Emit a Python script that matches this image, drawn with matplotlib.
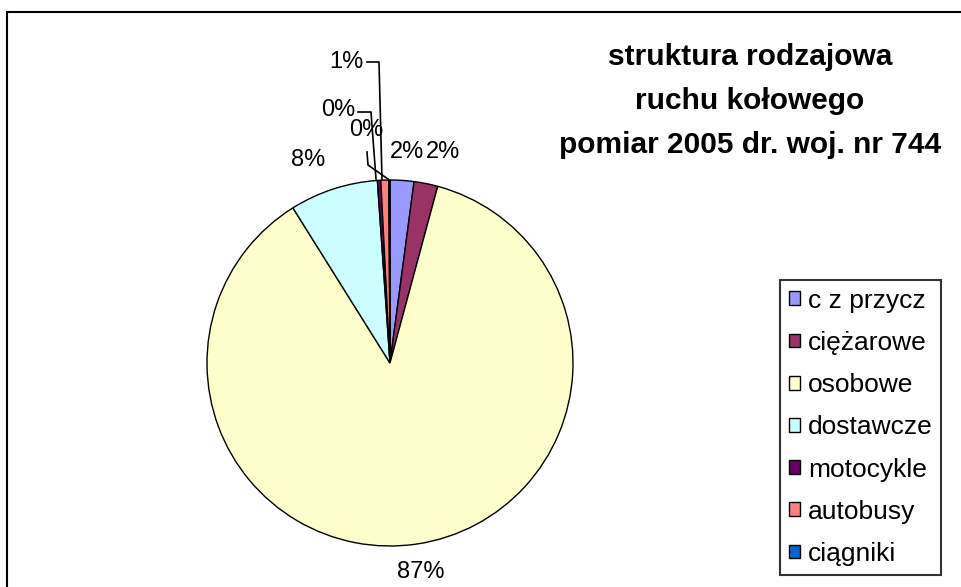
import matplotlib.pyplot as plt
from matplotlib.patches import Rectangle

# dane
categories = ["c z przycz", "ciężarowe", "osobowe", "dostawcze", "motocykle", "autobusy", "ciągniki"]
shares = [2.1, 2.1, 86.9, 7.8, 0.3, 0.7, 0.1]
pct_labels = ["2%", "2%", "87%", "8%", "0%", "1%", "0%"]
colors = ["#9999FF", "#993366", "#FFFFCC", "#CCFFFF", "#660066", "#FF8080", "#0066CC"]
title = "struktura rodzajowa\nruchu kołowego\npomiar 2005 dr. woj. nr 744"

W, H = 962, 587
plt.rcParams["font.family"] = ["Liberation Sans", "DejaVu Sans"]

fig = plt.figure(figsize=(W / 100, H / 100), dpi=100)
ax = fig.add_axes([0, 0, 1, 1])


def py(y):
    # piksel od góry -> współrzędna osi
    return H - y


wedges, _ = ax.pie(shares, colors=colors, startangle=90, counterclock=False,
                   center=(390, py(363)), radius=183,
                   wedgeprops=dict(edgecolor="black", linewidth=1.0))
ax.set_xlim(0, W)
ax.set_ylim(0, H)
ax.set_aspect("equal")
ax.axis("off")

# ramka wykresu
ax.add_patch(Rectangle((7, py(H + 20)), W + 20, H + 8, fill=False, lw=1.5, ec="black"))

# etykiety procentowe (pozycje w pikselach)
label_pos = [(407, 152), (443, 152), (421, 572), (308, 160), (338, 110), (346, 62), (366, 130)]
for txt, (x, y) in zip(pct_labels, label_pos):
    ax.text(x, py(y), txt, fontsize=17, ha="center", va="center")

# linie odniesienia dla małych wycinków
leaders = [
    [(367, 62), (379, 62), (382, 179)],
    [(358, 112), (371, 112), (376, 179)],
    [(367, 152), (368, 165), (388, 179)],
]
for pts in leaders:
    ax.plot([p[0] for p in pts], [py(p[1]) for p in pts], color="black", lw=1.2)

ax.text(750, py(101), title, fontsize=21.5, fontweight="bold", ha="center", va="center",
        linespacing=1.72)

leg = ax.legend(wedges, categories, loc="upper left", bbox_to_anchor=(780 / W, 1 - 280 / H),
                fontsize=19, frameon=True, fancybox=False, edgecolor="black",
                handlelength=0.42, handleheight=0.42, handletextpad=0.3,
                labelspacing=0.69, borderpad=0.33, borderaxespad=0)
leg.get_frame().set_linewidth(1.5)

fig.savefig("out.png", dpi=100)
